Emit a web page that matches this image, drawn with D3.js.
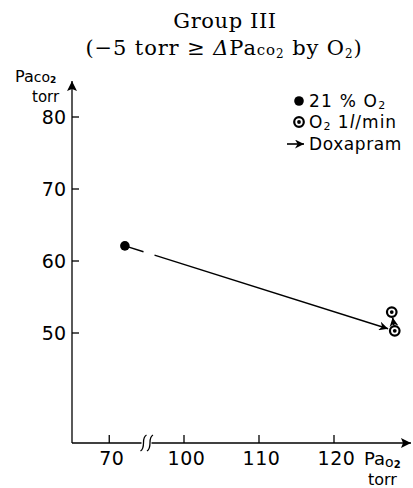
<!DOCTYPE html>
<html>
<head>
<meta charset="utf-8">
<script src="https://cdn.jsdelivr.net/npm/d3@7"></script>
<style>
  html, body { margin: 0; padding: 0; background: #fff; }
  svg { display: block; }
  .serif { font-family: "DejaVu Serif", "Liberation Serif", serif; }
  .sans { font-family: "DejaVu Sans", "Liberation Sans", sans-serif; }
</style>
</head>
<body>
<div id="chart"></div>
<script>
// --- data ---
const yTicks = [50, 60, 70, 80];
const xTicks = [70, 100, 110, 120];
const legendLabels = ["21 % O", "O", "Doxapram"];
// 21% O2 (room air)
const airPao2 = [72.1];
const airPaco2 = [62.1];
// O2 1 l/min
const o2Pao2 = [128.1, 127.7];
const o2Paco2 = [50.3, 52.9];

const W = 413, H = 488;
const svg = d3.select("#chart").append("svg")
  .attr("width", W).attr("height", H);

// broken x scale: 75..95 collapsed at the break
const x = d3.scaleLinear()
  .domain([65, 75, 95, 130.5])
  .range([72, 146.5, 146.5, 412.75]);
const y = d3.scaleLinear()
  .domain([50, 80])
  .range([333, 117]);

const x0 = 72, yBase = 443;

const defs = svg.append("defs");
defs.append("marker")
  .attr("id", "arr").attr("viewBox", "0 0 10 10")
  .attr("refX", 10).attr("refY", 5)
  .attr("markerWidth", 9).attr("markerHeight", 9)
  .attr("markerUnits", "userSpaceOnUse")
  .attr("orient", "auto")
  .append("path").attr("d", "M0,0 L10,5 L0,10 L3,5 Z").attr("fill", "#000");
defs.append("marker")
  .attr("id", "arrAxis").attr("viewBox", "0 0 10 10")
  .attr("refX", 10).attr("refY", 5)
  .attr("markerWidth", 12).attr("markerHeight", 10)
  .attr("markerUnits", "userSpaceOnUse")
  .attr("orient", "auto")
  .append("path").attr("d", "M0,0 L10,5 L0,10 L2,5 Z").attr("fill", "#000");

// --- title ---
const title = svg.append("g").attr("class", "serif").attr("fill", "#000");
title.append("text")
  .attr("x", 225).attr("y", 28)
  .attr("text-anchor", "middle")
  .attr("font-size", 21)
  .attr("letter-spacing", 0.6)
  .text("Group III");
const t2 = title.append("text")
  .attr("x", 224).attr("y", 55)
  .attr("text-anchor", "middle")
  .attr("font-size", 21)
  .attr("letter-spacing", 0.9);
t2.append("tspan").text("(−5 torr ≥ ");
t2.append("tspan").attr("font-style", "italic").text("Δ");
t2.append("tspan").text("Pa");
t2.append("tspan").attr("font-size", 15).text("co");
t2.append("tspan").attr("font-size", 12).attr("dy", 3).text("2");
t2.append("tspan").attr("dy", -3).text(" by O");
t2.append("tspan").attr("font-size", 12).attr("dy", 3).text("2");
t2.append("tspan").attr("dy", -3).text(")");

// --- axes ---
const ax = svg.append("g").attr("stroke", "#000").attr("stroke-width", 1.3).attr("fill", "none");
// y axis
ax.append("line")
  .attr("x1", x0).attr("y1", yBase).attr("x2", x0).attr("y2", 81)
  .attr("marker-end", "url(#arrAxis)");
// x axis, left piece then right piece past the break
ax.append("line")
  .attr("x1", x0).attr("y1", yBase).attr("x2", x(75) - 5).attr("y2", yBase);
ax.append("line")
  .attr("x1", x(95) + 5).attr("y1", yBase).attr("x2", 411).attr("y2", yBase)
  .attr("marker-end", "url(#arrAxis)");
// break marks
[-3, 3.5].forEach(dx => {
  const cx = x(75) + dx;
  ax.append("path")
    .attr("d", `M${cx + 3},${yBase - 8} C${cx - 3},${yBase - 5} ${cx + 3},${yBase + 4} ${cx - 3},${yBase + 8}`);
});

// ticks
ax.selectAll(".yt").data(yTicks).join("line")
  .attr("x1", x0).attr("x2", x0 + 7)
  .attr("y1", d => y(d)).attr("y2", d => y(d));
ax.selectAll(".xt").data(xTicks).join("line")
  .attr("x1", d => x(d)).attr("x2", d => x(d))
  .attr("y1", yBase).attr("y2", yBase - 8);

const lab = svg.append("g").attr("class", "sans").attr("fill", "#000");
lab.selectAll(".yl").data(yTicks).join("text")
  .attr("x", 66).attr("y", d => y(d) + 7)
  .attr("text-anchor", "end")
  .attr("font-size", 19)
  .text(d => d);
lab.selectAll(".xl").data(xTicks).join("text")
  .attr("x", d => x(d) + 2.5).attr("y", 465)
  .attr("text-anchor", "middle")
  .attr("font-size", 19)
  .attr("letter-spacing", 0.5)
  .text(d => d);

// axis titles
const yt = lab.append("text").attr("x", 15).attr("y", 82).attr("font-size", 16);
yt.append("tspan").text("Pa");
yt.append("tspan").attr("font-size", 14).text("co");
yt.append("tspan").attr("font-size", 9).attr("font-weight", "bold").attr("dy", 1).text("2");
lab.append("text").attr("x", 32).attr("y", 102).attr("font-size", 15).text("torr");

const xtl = lab.append("text").attr("x", 364).attr("y", 465).attr("font-size", 18);
xtl.append("tspan").text("Pa");
xtl.append("tspan").attr("font-size", 14).attr("dy", 2).text("o");
xtl.append("tspan").attr("font-size", 10).attr("font-weight", "bold").attr("dy", 1).text("2");
lab.append("text").attr("x", 368).attr("y", 485).attr("font-size", 16).text("torr");

// --- data marks ---
const marks = svg.append("g");
const p0 = [x(airPao2[0]), y(airPaco2[0])];
const p1 = [x(o2Pao2[0]), y(o2Paco2[0])];
const p2 = [x(o2Pao2[1]), y(o2Paco2[1])];

function along(a, b, t) { return [a[0] + (b[0] - a[0]) * t, a[1] + (b[1] - a[1]) * t]; }
function trimTo(a, b, r) {
  const dx = b[0] - a[0], dy = b[1] - a[1], len = Math.hypot(dx, dy);
  return [b[0] - dx / len * r, b[1] - dy / len * r];
}
// main arrow, with a gap where it crosses the axis break
const gapA = (x(75) - 3 - p0[0]) / (p1[0] - p0[0]);
const gapB = (x(95) + 8 - p0[0]) / (p1[0] - p0[0]);
const ga = along(p0, p1, gapA), gb = along(p0, p1, gapB);
const end1 = trimTo(p0, p1, 7);
marks.append("line")
  .attr("x1", p0[0]).attr("y1", p0[1]).attr("x2", ga[0]).attr("y2", ga[1])
  .attr("stroke", "#000").attr("stroke-width", 1.4);
marks.append("line")
  .attr("x1", gb[0]).attr("y1", gb[1]).attr("x2", end1[0]).attr("y2", end1[1])
  .attr("stroke", "#000").attr("stroke-width", 1.4)
  .attr("marker-end", "url(#arr)");
// doxapram arrow
const s2 = trimTo(p2, p1, 5.5);
const e2 = trimTo(p1, p2, 5.5);
marks.append("line")
  .attr("x1", s2[0]).attr("y1", s2[1]).attr("x2", e2[0]).attr("y2", e2[1])
  .attr("stroke", "#000").attr("stroke-width", 1.6)
  .attr("marker-end", "url(#arr)");

function filledDot(g, cx, cy) {
  g.append("circle").attr("cx", cx).attr("cy", cy).attr("r", 4.8).attr("fill", "#000");
}
function ringDot(g, cx, cy) {
  g.append("circle").attr("cx", cx).attr("cy", cy).attr("r", 4.8)
    .attr("fill", "#fff").attr("stroke", "#000").attr("stroke-width", 2.2);
  g.append("circle").attr("cx", cx).attr("cy", cy).attr("r", 1.9).attr("fill", "#000");
}
filledDot(marks, p0[0], p0[1]);
ringDot(marks, p1[0], p1[1]);
ringDot(marks, p2[0], p2[1]);

// --- legend ---
const leg = svg.append("g").attr("class", "sans").attr("fill", "#000");
const lx = 299, rows = [101, 122, 144];
filledDot(leg, lx, rows[0]);
ringDot(leg, lx, rows[1]);
leg.append("line")
  .attr("x1", lx - 12).attr("y1", rows[2]).attr("x2", lx + 5).attr("y2", rows[2])
  .attr("stroke", "#000").attr("stroke-width", 1.6)
  .attr("marker-end", "url(#arr)");

const l1 = leg.append("text").attr("x", 309).attr("y", rows[0] + 6).attr("font-size", 17).attr("letter-spacing", 1.2);
l1.append("tspan").text(legendLabels[0]);
l1.append("tspan").attr("font-size", 11).attr("dy", 2).text("2");
const l2 = leg.append("text").attr("x", 309).attr("y", rows[1] + 6).attr("font-size", 17).attr("letter-spacing", 1);
l2.append("tspan").text(legendLabels[1]);
l2.append("tspan").attr("font-size", 11).attr("dy", 2).text("2");
l2.append("tspan").attr("dy", -2).text(" 1");
l2.append("tspan").attr("font-style", "italic").text("l");
l2.append("tspan").text("/min");
leg.append("text").attr("x", 309).attr("y", rows[2] + 6).attr("font-size", 17)
  .attr("letter-spacing", 0.6).text(legendLabels[2]);
</script>
</body>
</html>
